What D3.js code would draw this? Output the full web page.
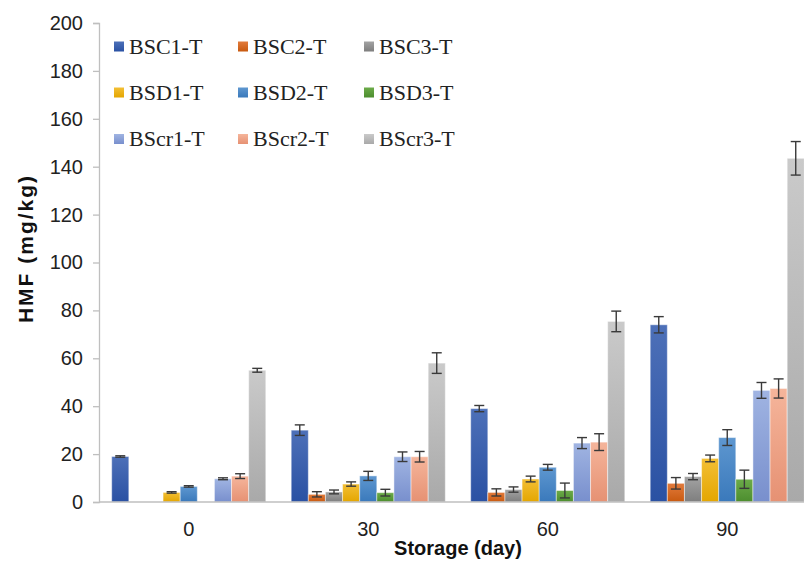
<!DOCTYPE html>
<html>
<head>
<meta charset="utf-8">
<script src="https://cdn.jsdelivr.net/npm/d3@7"></script>
<style>
  html, body { margin: 0; padding: 0; background: #fff; }
  svg { display: block; }
</style>
</head>
<body>
<div id="chart"></div>
<script>
// Storage days (x categories)
const days = ['0', '30', '60', '90'];

// Series names, in legend / bar order
const seriesNames = ['BSC1-T', 'BSC2-T', 'BSC3-T', 'BSD1-T', 'BSD2-T', 'BSD3-T', 'BScr1-T', 'BScr2-T', 'BScr3-T'];

// HMF means (mg/kg), one array per series, over days
const bsc1 = [19, 30, 39, 74];
const bsc2 = [0, 3.2, 4.0, 7.8];
const bsc3 = [0, 4.2, 5.2, 10.6];
const bsd1 = [4.0, 7.5, 9.6, 18.2];
const bsd2 = [6.5, 10.9, 14.5, 26.9];
const bsd3 = [0, 3.9, 4.8, 9.5];
const bscr1 = [9.7, 18.9, 24.6, 46.6];
const bscr2 = [10.8, 18.9, 25.0, 47.4];
const bscr3 = [55, 58, 75.4, 143.5];

// Error bar half widths
const bsc1Err = [0.3, 2.2, 1.3, 3.4];
const bsc2Err = [0, 1.1, 1.5, 2.4];
const bsc3Err = [0, 0.8, 1.1, 1.3];
const bsd1Err = [0.3, 0.9, 1.2, 1.4];
const bsd2Err = [0.3, 1.9, 1.2, 3.3];
const bsd3Err = [0, 1.4, 3.1, 3.8];
const bscr1Err = [0.4, 2.0, 2.3, 3.3];
const bscr2Err = [1.0, 2.2, 3.5, 4.0];
const bscr3Err = [0.8, 4.3, 4.3, 7.0];

const yTicks = [0, 20, 40, 60, 80, 100, 120, 140, 160, 180, 200];

const allValues = [bsc1, bsc2, bsc3, bsd1, bsd2, bsd3, bscr1, bscr2, bscr3];
const allErrors = [bsc1Err, bsc2Err, bsc3Err, bsd1Err, bsd2Err, bsd3Err, bscr1Err, bscr2Err, bscr3Err];

// gradient stops per series: [top, bottom]
const colors = [
    ['#4d70b8', '#2a51a3'],
    ['#e27b3c', '#c8590f'],
    ['#a3a3a3', '#7e7e7e'],
    ['#f3bf35', '#e4a600'],
    ['#5e97d0', '#3a79bb'],
    ['#6cab49', '#4c8d2e'],
    ['#a0b4e2', '#788fcd'],
    ['#f5b59b', '#e69173'],
    ['#cacaca', '#a9a9a9']
];

const width = 804, height = 561;
const plot = { left: 99, right: 817, top: 23, bottom: 502 };

const svg = d3.select('#chart').append('svg')
    .attr('width', width)
    .attr('height', height);

const defs = svg.append('defs');
colors.forEach((c, i) => {
    const g = defs.append('linearGradient')
        .attr('id', 'grad' + i)
        .attr('x1', 0).attr('y1', 0).attr('x2', 0).attr('y2', 1);
    g.append('stop').attr('offset', '0%').attr('stop-color', c[0]);
    g.append('stop').attr('offset', '100%').attr('stop-color', c[1]);
});

const x0 = d3.scaleBand().domain(days).range([plot.left, plot.right]).padding(0);
const x1 = d3.scaleBand().domain(seriesNames)
    .range([12.7, x0.bandwidth() - 12.7]).padding(0);
const y = d3.scaleLinear().domain([0, 200]).range([plot.bottom, plot.top]);

// y axis
const yAxis = svg.append('g')
    .attr('transform', `translate(${plot.left},0)`)
    .call(d3.axisLeft(y).tickValues(yTicks).tickSize(6).tickPadding(10));
yAxis.select('.domain').attr('stroke', '#bfbfbf').attr('stroke-width', 1.3);
yAxis.selectAll('.tick line').attr('stroke', '#bfbfbf').attr('stroke-width', 1.3);
yAxis.selectAll('.tick text')
    .attr('fill', '#222')
    .style('font-family', 'Liberation Sans, Arial, sans-serif')
    .style('font-size', '20px');

// x labels
const xAxis = svg.append('g')
    .attr('transform', `translate(0,${plot.bottom})`)
    .call(d3.axisBottom(x0).tickSize(0).tickPadding(20));
xAxis.select('.domain').remove();
xAxis.selectAll('.tick text')
    .attr('fill', '#222')
    .attr('dy', '0.71em')
    .style('font-family', 'Liberation Sans, Arial, sans-serif')
    .style('font-size', '20px');

// bars
const groups = svg.append('g').selectAll('g')
    .data(days)
    .join('g')
    .attr('transform', d => `translate(${x0(d)},0)`);

groups.each(function(day, di) {
    const g = d3.select(this);
    const rows = seriesNames.map((name, si) => ({
        name, si, v: allValues[si][di], e: allErrors[si][di]
    }));
    g.selectAll('rect')
        .data(rows.filter(r => r.v > 0))
        .join('rect')
        .attr('x', r => x1(r.name))
        .attr('y', r => y(r.v))
        .attr('width', x1.bandwidth())
        .attr('height', r => y(0) - y(r.v))
        .attr('fill', r => `url(#grad${r.si})`)
        .attr('stroke', 'rgba(255,255,255,0.45)')
        .attr('stroke-width', 1);

    const err = g.selectAll('g.err')
        .data(rows.filter(r => r.v > 0))
        .join('g')
        .attr('class', 'err')
        .attr('stroke', '#3a3a3a')
        .attr('stroke-width', 1.4);
    const cx = r => x1(r.name) + x1.bandwidth() / 2;
    err.append('line')
        .attr('x1', cx).attr('x2', cx)
        .attr('y1', r => y(r.v + r.e)).attr('y2', r => y(r.v - r.e));
    err.append('line')
        .attr('x1', r => cx(r) - 5).attr('x2', r => cx(r) + 5)
        .attr('y1', r => y(r.v + r.e)).attr('y2', r => y(r.v + r.e));
    err.append('line')
        .attr('x1', r => cx(r) - 5).attr('x2', r => cx(r) + 5)
        .attr('y1', r => y(r.v - r.e)).attr('y2', r => y(r.v - r.e));
});

// x axis line on top of bars
svg.append('line')
    .attr('x1', plot.left).attr('x2', plot.right)
    .attr('y1', plot.bottom).attr('y2', plot.bottom)
    .attr('stroke', '#bfbfbf').attr('stroke-width', 1.5);

// axis titles
svg.append('text')
    .attr('transform', `translate(33,${(plot.top + plot.bottom) / 2 - 14}) rotate(-90)`)
    .attr('text-anchor', 'middle')
    .style('font-family', 'Liberation Sans, Arial, sans-serif')
    .style('font-size', '21px')
    .style('font-weight', 'bold')
    .style('letter-spacing', '2px')
    .attr('fill', '#111')
    .text('HMF (mg/kg)');

svg.append('text')
    .attr('x', (plot.left + plot.right) / 2)
    .attr('y', 555)
    .attr('text-anchor', 'middle')
    .style('font-family', 'Liberation Sans, Arial, sans-serif')
    .style('font-size', '20px')
    .style('font-weight', 'bold')
    .attr('fill', '#111')
    .text('Storage (day)');

// legend, 3 x 3
const legendCols = [129, 253, 379];
const legendRows = [46.5, 92.5, 139];
const legend = svg.append('g').selectAll('g')
    .data(seriesNames)
    .join('g')
    .attr('transform', (d, i) => `translate(${legendCols[i % 3]},${legendRows[Math.floor(i / 3)]})`);
legend.append('rect')
    .attr('x', -15).attr('y', -5)
    .attr('width', 10).attr('height', 10)
    .attr('fill', (d, i) => `url(#grad${i})`);
legend.append('text')
    .attr('x', 0).attr('y', 7)
    .style('font-family', 'Liberation Serif, Times New Roman, serif')
    .style('font-size', '22px')
    .attr('fill', '#222')
    .text(d => d);
</script>
</body>
</html>
